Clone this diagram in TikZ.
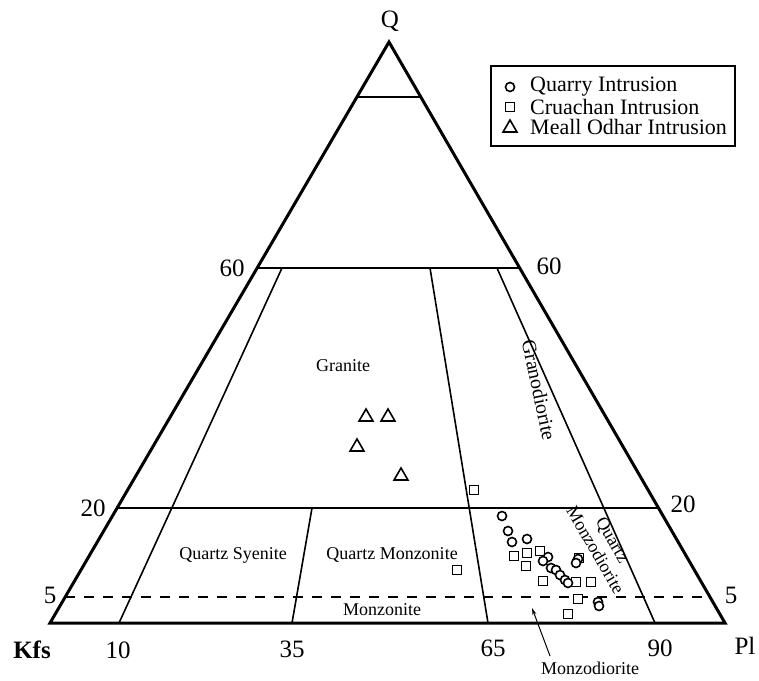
\documentclass[tikz,border=0pt]{standalone}
\usepackage{fontspec}
\setmainfont{Liberation Serif}
\usetikzlibrary{calc,shapes.geometric,arrows.meta}
\tikzset{
  big/.style={font=\fontsize{25}{30}\selectfont, inner sep=0pt},
  field/.style={font=\fontsize{18}{20}\selectfont, inner sep=0pt},
  leg/.style={font=\fontsize{22}{25}\selectfont, inner sep=0pt, anchor=west},
  outline/.style={line width=3pt, line join=miter},
  divline/.style={line width=2pt},
  thinline/.style={line width=1.6pt},
  dashline/.style={line width=1.6pt, dash pattern=on 10pt off 9pt},
  mk/.style={draw, line width=1.6pt, inner sep=0pt, fill=white},
  qc/.style={mk, circle, minimum size=9pt},
  cs/.style={mk, rectangle, minimum size=9pt},
  mt/.style={mk, regular polygon, regular polygon sides=3, minimum size=16pt},
}
\begin{document}
\begin{tikzpicture}[x=1pt,y=-1pt]
\useasboundingbox (0,0) rectangle (759,680);
% vertices
\coordinate (K) at (50,623);
\coordinate (P) at (725,623);
\coordinate (Q) at (389,42);
% horizontal line ends
\coordinate (L90) at ($(K)!0.9053!(Q)$);
\coordinate (R90) at ($(P)!0.9053!(Q)$);
\coordinate (L60) at ($(K)!0.611!(Q)$);
\coordinate (R60) at ($(P)!0.611!(Q)$);
\coordinate (L20) at ($(K)!0.198!(Q)$);
\coordinate (R20) at ($(P)!0.198!(Q)$);
\coordinate (L5) at ($(K)!0.0448!(Q)$);
\coordinate (R5) at ($(P)!0.0448!(Q)$);
% internal line ends
\coordinate (t10) at (282,268);
\coordinate (b10) at (119,623);
\coordinate (t35) at (312,508);
\coordinate (b35) at (292,623);
\coordinate (t65) at (430,268);
\coordinate (b65) at (488,623);
\coordinate (t90) at (497,268);
\coordinate (b90) at (655,623);

\draw[thinline] (L90) -- (R90);
\draw[divline] (L60) -- (R60);
\draw[divline] (L20) -- (R20);
\draw[dashline] (L5) -- (R5);
\draw[thinline] (t10) -- (b10);
\draw[thinline] (t35) -- (b35);
\draw[thinline] (t65) -- (b65);
\draw[thinline] (t90) -- (b90);
\draw[outline] (K) -- (P) -- (Q) -- cycle;

% axis labels
\node[big] (lQ) at (390,21) {Q};
\node[big] (l60a) at (232,268) {60};
\node[big] (l60b) at (549,266) {60};
\node[big] (l20a) at (93,508) {20};
\node[big] (l20b) at (683,504) {20};
\node[big] (l5a) at (50,595) {5};
\node[big] (l5b) at (731,595) {5};
\node[big, font=\fontsize{25}{30}\selectfont\bfseries] (lK) at (32,650) {Kfs};
\node[big] (l10) at (118,650) {10};
\node[big] (l35) at (292,649) {35};
\node[big] (l65) at (493,648) {65};
\node[big] (l90) at (660,648) {90};
\node[big] (lP) at (745,646) {Pl};

% field labels
\node[field] (fGr) at (343,366) {Granite};
\node[field, font=\fontsize{20}{22}\selectfont, rotate=-78] (fGd) at (539,390) {Granodiorite};
\node[field] (fQS) at (233,555) {Quartz Syenite};
\node[field] (fQM) at (392,555) {Quartz Monzonite};
\node[field] (fMz) at (382,610) {Monzonite};
\node[field, rotate=-60, align=center] (fQMd) at (604,545) {Quartz\\Monzodiorite};
\node[field] (fMd) at (590,668) {Monzodiorite};
\coordinate (a1) at (550,656);
\coordinate (a2) at (532,608);
\draw[line width=1pt, -{Stealth[length=7pt,width=4pt]}] (a1) -- (a2);

% legend
\draw[line width=1.6pt] (491,66) rectangle (735,146);
\node[qc] (g1) at (510,87) {};
\node[cs] (g2) at (510,107) {};
\node[mt] (g3) at (510,128) {};
\node[leg] (t1) at (530,87) {Quarry Intrusion};
\node[leg] (t2) at (530,107) {Cruachan Intrusion};
\node[leg] (t3) at (530,127) {Meall Odhar Intrusion};

% data: Meall Odhar (triangles)
\foreach \x/\y [count=\i] in {366/417, 388/417, 357/447, 401/476}
  \node[mt] (m\i) at (\x,\y) {};
% Cruachan (squares)
\foreach \x/\y [count=\i] in {474/490, 457/570, 514/556, 527/553, 526/566, 540/551, 543/581, 576/582, 591/582, 578/599, 568/614, 579/558}
  \node[cs] (c\i) at (\x,\y) {};
% Quarry (circles)
\foreach \x/\y [count=\i] in {502/516, 508/531, 512/542, 527/539, 548/557, 543/561, 551/568, 556/570, 560/575, 565/580, 568/583, 578/559, 576/563, 598/602, 599/606}
  \node[qc] (q\i) at (\x,\y) {};
\end{tikzpicture}
\end{document}
